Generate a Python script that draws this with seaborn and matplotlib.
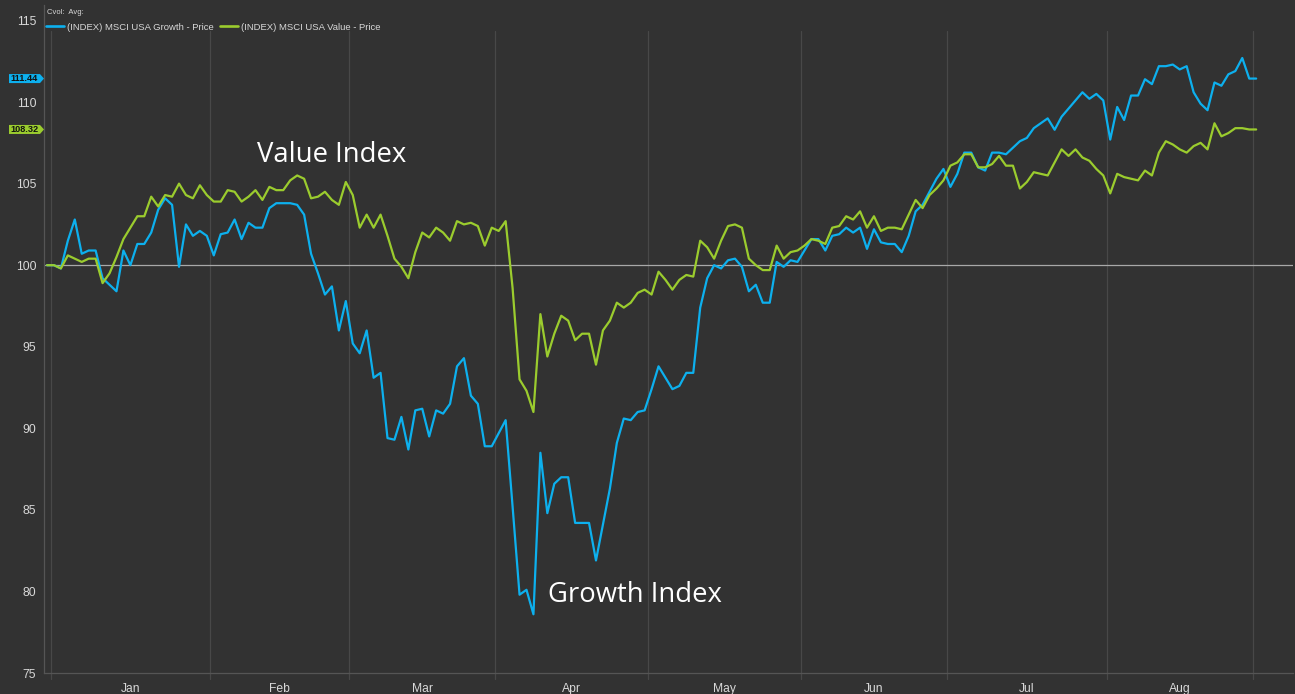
import numpy as np
import pandas as pd
import matplotlib
matplotlib.use("Agg")
import matplotlib.pyplot as plt
import matplotlib.transforms as mtransforms
from matplotlib.patches import Polygon
from matplotlib.lines import Line2D
import seaborn as sns

# ---------------- data ----------------
growth = [
    100.0, 100.0, 99.8, 101.5, 102.8, 100.7, 100.9, 100.9, 99.2, 98.8,
    98.4, 100.9, 100.0, 101.3, 101.3, 102.0, 103.4, 104.1, 103.7, 99.9,
    102.5, 101.8, 102.1, 101.8, 100.6, 101.9, 102.0, 102.8, 101.6, 102.6,
    102.3, 102.3, 103.5, 103.8, 103.8, 103.8, 103.7, 103.1, 100.7, 99.5,
    98.2, 98.7, 96.0, 97.8, 95.2, 94.6, 96.0, 93.1, 93.4, 89.4,
    89.3, 90.7, 88.7, 91.1, 91.2, 89.5, 91.1, 90.9, 91.5, 93.8,
    94.3, 92.0, 91.5, 88.9, 88.9, 89.7, 90.5, 85.2, 79.8, 80.1,
    78.6, 88.5, 84.8, 86.6, 87.0, 87.0, 84.2, 84.2, 84.2, 81.9,
    84.1, 86.3, 89.1, 90.6, 90.5, 91.0, 91.1, 92.4, 93.8, 93.1,
    92.4, 92.6, 93.4, 93.4, 97.4, 99.2, 100.0, 99.8, 100.3, 100.4,
    99.9, 98.4, 98.8, 97.7, 97.7, 100.2, 99.9, 100.3, 100.2, 100.9,
    101.6, 101.6, 100.9, 101.8, 101.9, 102.3, 102.0, 102.3, 101.0, 102.2,
    101.4, 101.3, 101.3, 100.8, 101.8, 103.3, 103.7, 104.5, 105.3, 105.9,
    104.8, 105.6, 106.9, 106.9, 106.0, 105.8, 106.9, 106.9, 106.8, 107.2,
    107.6, 107.8, 108.4, 108.7, 109.0, 108.3, 109.1, 109.6, 110.1, 110.6,
    110.2, 110.5, 110.1, 107.7, 109.7, 108.9, 110.4, 110.4, 111.4, 111.1,
    112.2, 112.2, 112.3, 112.0, 112.2, 110.6, 109.9, 109.5, 111.2, 111.0,
    111.7, 111.9, 112.7, 111.44, 111.44,
]
value = [
    100.0, 100.0, 99.8, 100.6, 100.4, 100.2, 100.4, 100.4, 98.9, 99.5,
    100.5, 101.6, 102.3, 103.0, 103.0, 104.2, 103.6, 104.3, 104.2, 105.0,
    104.3, 104.1, 104.9, 104.3, 103.9, 103.9, 104.6, 104.5, 103.9, 104.2,
    104.6, 104.0, 104.8, 104.6, 104.6, 105.2, 105.5, 105.3, 104.1, 104.2,
    104.5, 104.0, 103.7, 105.1, 104.3, 102.3, 103.1, 102.3, 103.1, 101.8,
    100.4, 99.9, 99.2, 100.8, 102.0, 101.7, 102.3, 102.0, 101.5, 102.7,
    102.5, 102.6, 102.4, 101.2, 102.3, 102.1, 102.7, 98.6, 93.0, 92.3,
    91.0, 97.0, 94.4, 95.8, 96.9, 96.6, 95.4, 95.8, 95.8, 93.9,
    96.0, 96.6, 97.7, 97.4, 97.7, 98.3, 98.5, 98.2, 99.6, 99.1,
    98.5, 99.1, 99.4, 99.3, 101.5, 101.1, 100.4, 101.5, 102.4, 102.5,
    102.3, 100.4, 100.0, 99.7, 99.7, 101.2, 100.4, 100.8, 100.9, 101.2,
    101.6, 101.5, 101.3, 102.3, 102.4, 103.0, 102.8, 103.3, 102.3, 103.0,
    102.1, 102.3, 102.3, 102.2, 103.1, 104.0, 103.5, 104.3, 104.7, 105.2,
    106.1, 106.3, 106.8, 106.8, 106.0, 106.0, 106.2, 106.7, 106.1, 106.1,
    104.7, 105.1, 105.7, 105.6, 105.5, 106.3, 107.1, 106.7, 107.1, 106.6,
    106.4, 105.9, 105.5, 104.4, 105.6, 105.4, 105.3, 105.2, 105.8, 105.5,
    106.9, 107.6, 107.4, 107.1, 106.9, 107.3, 107.5, 107.1, 108.7, 107.9,
    108.1, 108.4, 108.4, 108.32, 108.32,
]
series_names = ["(INDEX) MSCI USA Growth - Price", "(INDEX) MSCI USA Value - Price"]
month_labels = ["Jan", "Feb", "Mar", "Apr", "May", "Jun", "Jul", "Aug"]
month_bounds = [0.6, 23.5, 43.5, 64.5, 86.5, 108.5, 129.5, 152.5, 173.5]
y_ticks = [75, 80, 85, 90, 95, 100, 105, 110, 115]

# ---------------- style ----------------
BG = "#323232"
BLUE = "#0db0ee"
GREEN = "#9bcc2e"
GRID = "#484848"
TXT = "#d8d8d8"

sns.set_theme(style="dark")
plt.rcParams["font.family"] = ["Liberation Sans", "DejaVu Sans"]

W, H = 1295, 694
fig = plt.figure(figsize=(W / 100, H / 100), dpi=100, facecolor=BG)
AX_L, AX_B, AX_W, AX_H = 44, 21, 1249, 668
ax = fig.add_axes([AX_L / W, AX_B / H, AX_W / W, AX_H / H])
ax.set_facecolor(BG)
ax.grid(False)

n = len(growth)
df = pd.DataFrame({
    "day": np.concatenate([np.arange(n), np.arange(len(value))]),
    "price": growth + value,
    "series": [series_names[0]] * n + [series_names[1]] * len(value),
})
sns.lineplot(data=df, x="day", y="price", hue="series",
             palette=[BLUE, GREEN], linewidth=1.6, legend=False, ax=ax, zorder=3)

ax.set_xlim(-0.43, 179.3)
ax.set_ylim(75, 115.95)
ax.set_xlabel("")
ax.set_ylabel("")

# month gridlines
for b in month_bounds:
    ax.axvline(b, ymin=-6 / AX_H, ymax=(673 - 31) / AX_H, color=GRID,
               lw=0.9, clip_on=False, zorder=0)
# 100 reference line
ax.axhline(100, color="#a8a8a8", lw=0.9, zorder=1)

for s in ["top", "right"]:
    ax.spines[s].set_visible(False)
for s in ["left", "bottom"]:
    ax.spines[s].set_color("#555555")
    ax.spines[s].set_linewidth(0.9)

ax.set_yticks(y_ticks)
ax.tick_params(axis="y", length=4, width=0.8, color="#666666",
               labelcolor=TXT, labelsize=8.7, pad=1.5)
mids = [(a + b) / 2 for a, b in zip(month_bounds[:-1], month_bounds[1:])]
ax.set_xticks(mids, labels=month_labels)
ax.set_xticks(np.arange(3.5, 174, 5), minor=True)
ax.tick_params(axis="x", which="major", length=0, pad=7,
               labelcolor=TXT, labelsize=8.7)
ax.tick_params(axis="x", which="minor", length=3, width=0.8,
               direction="in", color="#5a5a5a")

# value tags at the y axis
blend = mtransforms.blended_transform_factory(ax.transAxes, ax.transData)
px_unit = AX_H / (115.95 - 75)
for val, col in [(growth[-1], BLUE), (value[-1], GREEN)]:
    hh = 4.5 / px_unit
    verts = [(-35 / AX_W, val - hh), (-4 / AX_W, val - hh), (0, val),
             (-4 / AX_W, val + hh), (-35 / AX_W, val + hh)]
    ax.add_patch(Polygon(verts, closed=True, transform=blend, facecolor=col,
                         edgecolor="none", clip_on=False, zorder=5))
    ax.annotate(f"{val:.2f}", xy=(0, val), xycoords=blend,
                xytext=(-19.5 * 0.72, 0), textcoords="offset points",
                ha="center", va="center", fontsize=6.6, color="#111111",
                fontweight="bold", zorder=6, annotation_clip=False)

# legend
fig.text(47 / W, 1 - 12 / H, "Cvol:  Avg:", fontsize=5.5, color=TXT,
         va="center", ha="left")
handles = [Line2D([], [], color=BLUE, lw=1.9), Line2D([], [], color=GREEN, lw=1.9)]
fig.legend(handles, series_names, loc="center left",
           bbox_to_anchor=(46 / W, 1 - 27 / H), ncol=2, frameon=False,
           fontsize=6.8, handlelength=1.9, handletextpad=0.35,
           columnspacing=0.6, borderpad=0, borderaxespad=0, labelcolor=TXT)

# annotations
ax.text(30.2, 106.75, "Value Index", fontsize=19.8, color="white",
        family=["Open Sans", "DejaVu Sans"], va="center", ha="left", zorder=6)
ax.text(72.1, 79.8, "Growth Index", fontsize=19.8, color="white",
        family=["Open Sans", "DejaVu Sans"], va="center", ha="left", zorder=6)

fig.savefig("out.png", dpi=100, facecolor=BG)
